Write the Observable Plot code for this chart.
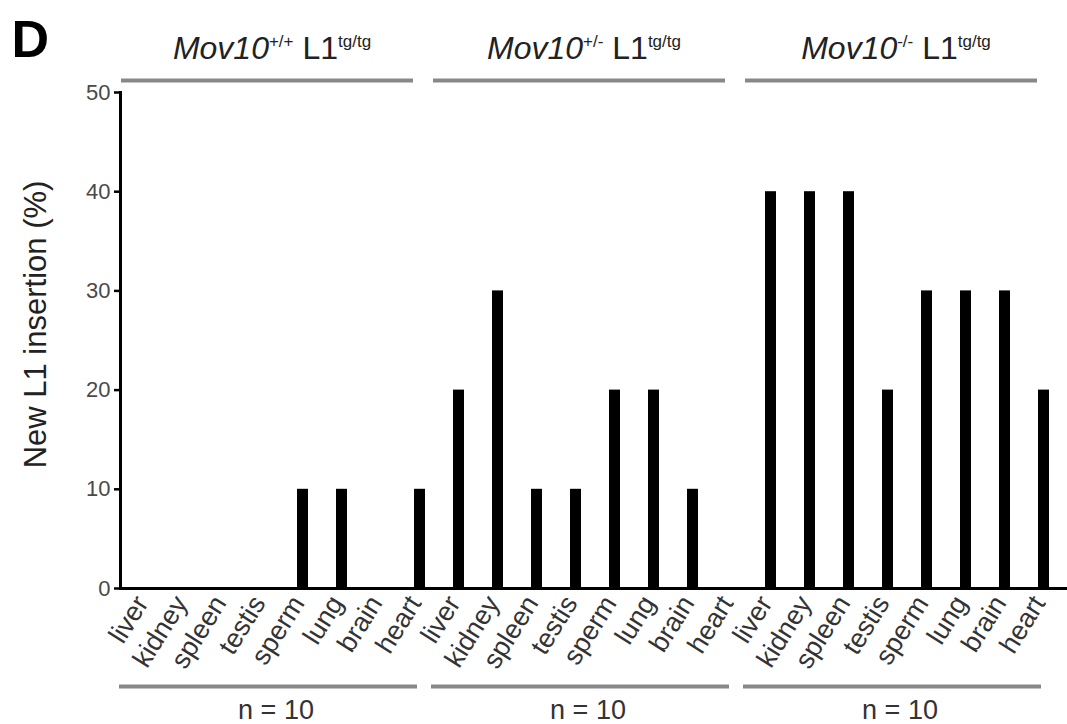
<!DOCTYPE html>
<html><head><meta charset="utf-8">
<script src="https://cdn.jsdelivr.net/npm/d3@7"></script>
<script src="https://cdn.jsdelivr.net/npm/@observablehq/plot@0.6"></script>
<style>
html,body{margin:0;padding:0;background:#fff;}
#chart svg{display:block;}
</style></head><body><div id="chart"></div>
<script>
const tissues = ["liver","kidney","spleen","testis","sperm","lung","brain","heart"];
const genotypes = ["+/+","+/-","-/-"];
const sampleSizes = [10,10,10];
const insertionWT = [0,0,0,0,10,10,0,10];
const insertionHet = [20,30,10,10,20,20,10,0];
const insertionKO = [40,40,40,20,30,30,30,20];
const yTicks = [0,10,20,30,40,50];
const yLabel = "New L1 insertion (%)";
const panelLetter = "D";

const series = [insertionWT, insertionHet, insertionKO];
const data = genotypes.flatMap((g, gi) => tissues.map((t, ti) => ({key: gi + "|" + t, group: gi, tissue: t, value: series[gi][ti]})));
const groups = genotypes.map((g, gi) => ({
  genotype: g, n: sampleSizes[gi],
  first: gi + "|" + tissues[0],
  last: gi + "|" + tissues[tissues.length - 1],
  mid: gi + "|" + tissues[3]
}));

const font = "'Liberation Sans', Arial, Helvetica, sans-serif";
const plot = Plot.plot({
  width: 1067, height: 724,
  marginTop: 92, marginBottom: 136, marginLeft: 120, marginRight: 0,
  style: {fontFamily: font, background: "#fff", color: "black"},
  x: {type: "band", domain: data.map(d => d.key), range: [120, 1071], paddingInner: 0.71, paddingOuter: 0.334, align: 0.5, label: null},
  y: {domain: [0, 50], label: null},
  marks: [
    Plot.barY(data, {x: "key", y: "value", fill: "black"}),
    Plot.ruleY([0], {stroke: "black", strokeWidth: 3}),
    Plot.axisY({ticks: yTicks, tickSize: 6, tickPadding: 4, fontSize: 22, stroke: "black", strokeWidth: 2.5, fill: "#4a4a4a", label: null}),
    Plot.frame({anchor: "left", stroke: "black", strokeWidth: 3}),
    Plot.axisX({tickRotate: -58, tickSize: 0, tickPadding: 10, dx: -5, fontSize: 27, fill: "#333", tickFormat: k => k.split("|")[1], label: null}),
    Plot.ruleY(groups, {x1: "first", x2: "last", y: () => 50, dy: -12, stroke: "#888", strokeWidth: 4, insetLeft: -20, insetRight: 12}),
    Plot.ruleY(groups, {x1: "first", x2: "last", y: () => 0, dy: 98, stroke: "#888", strokeWidth: 4, insetLeft: -22, insetRight: 8}),
    Plot.text(groups, {x: "mid", y: () => 50, dy: -44, dx: 8, text: "genotype", fontSize: 32, fill: "#222"}),
    Plot.text(groups, {x: "mid", y: () => 0, dy: 122, dx: 12, text: d => `n = ${d.n}`, fontSize: 27, fill: "#333"}),
    Plot.text([yLabel], {frameAnchor: "left", textAnchor: "middle", rotate: -90, dx: -84, dy: -16, fontSize: 31, fill: "#222"}),
    Plot.text([panelLetter], {frameAnchor: "top-left", textAnchor: "start", dx: -109, dy: -72, fontSize: 52, fontWeight: "bold", fill: "black"})
  ]
});

d3.select(plot).selectAll("text").filter(function() { return genotypes.includes(this.textContent); }).each(function() {
  const g = this.textContent;
  const t = d3.select(this);
  t.text(null);
  t.append("tspan").attr("font-style", "italic").text("Mov10");
  t.append("tspan").attr("font-size", 17).attr("dy", -12).text(g);
  t.append("tspan").attr("dy", 12).text(" L1");
  t.append("tspan").attr("font-size", 17).attr("dy", -12).text("tg/tg");
});

document.getElementById("chart").appendChild(plot);
</script>
</body></html>
